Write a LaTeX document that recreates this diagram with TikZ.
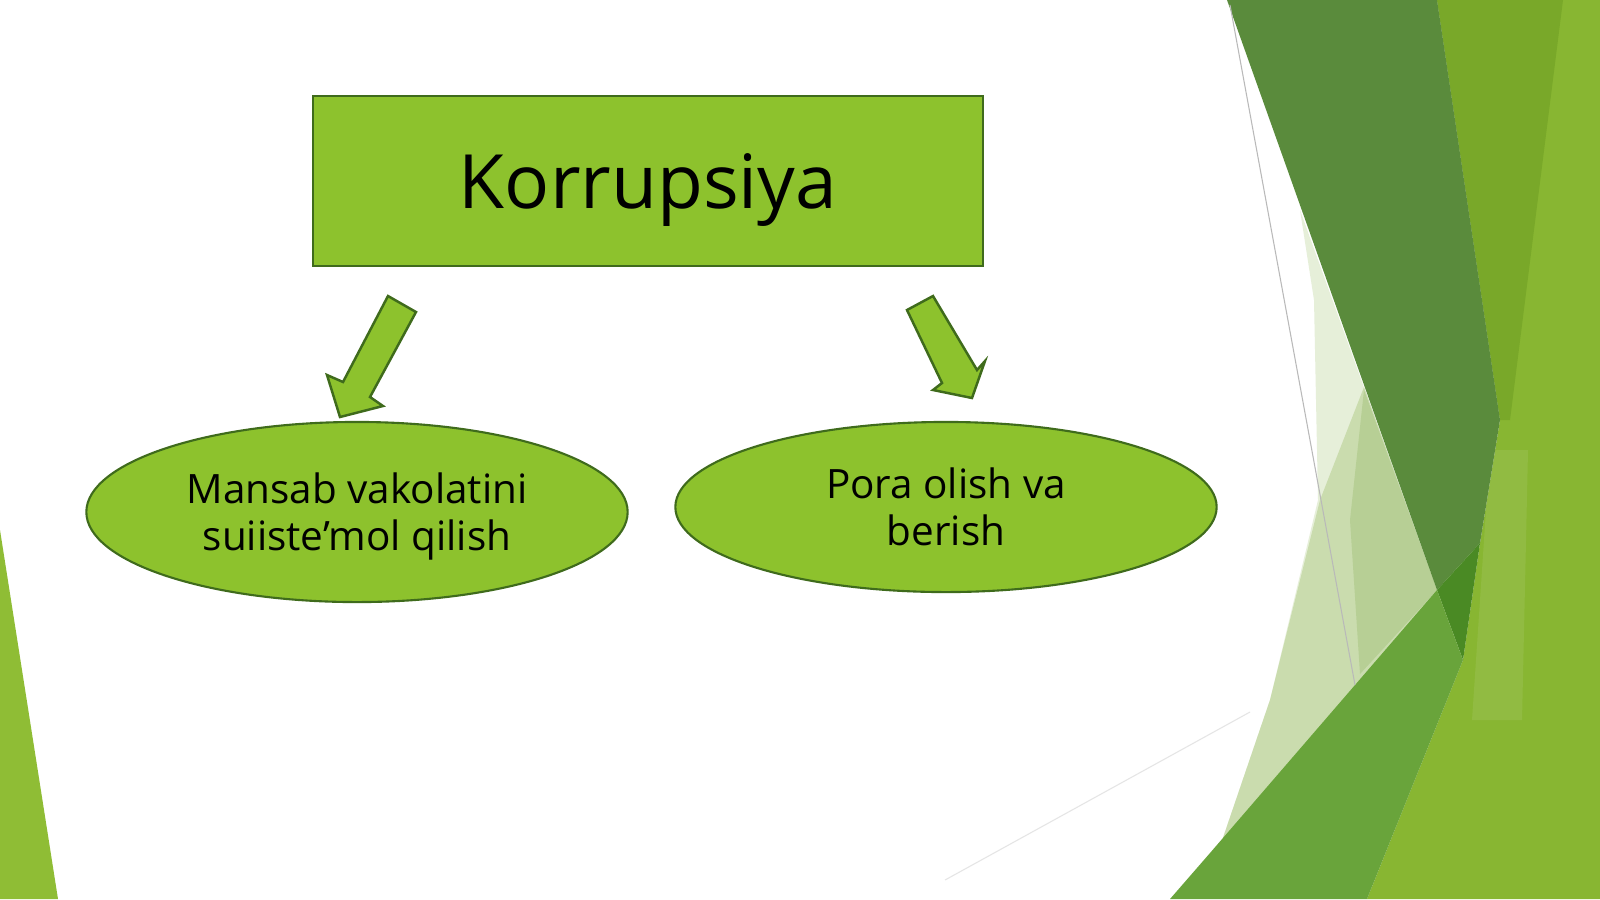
\documentclass[tikz,border=0pt]{standalone}
\usepackage{fontspec}
\setmainfont{Open Sans}
\usepackage{xcolor}
\usepackage{tikz}
\usetikzlibrary{positioning,shapes.geometric}

\definecolor{leaf}{HTML}{8DC22D}
\definecolor{leafedge}{HTML}{3F6B1C}
\definecolor{bandlight}{HTML}{88B632}
\definecolor{bandolive}{HTML}{79A829}
\definecolor{banddark}{HTML}{5A8B3C}
\definecolor{banddeep}{HTML}{4A8A24}
\definecolor{bandmid}{HTML}{69A43B}
\definecolor{bandpale}{HTML}{CADCAE}
\definecolor{bandpaler}{HTML}{E6EFD9}
\definecolor{bandsage}{HTML}{B7CF95}
\definecolor{sliver}{HTML}{8FBD35}

\begin{document}
\begin{tikzpicture}[
            x=0.01cm, y=-0.01cm,
            box/.style={draw=leafedge, line width=0.6pt, rectangle, fill=leaf, minimum width=6.70cm, minimum height=1.70cm, align=center, text depth=0pt},
            oval/.style={draw=leafedge, line width=0.6pt, ellipse, fill=leaf, inner sep=0pt, minimum width=5.41cm, align=center, text depth=0pt, font=\fontsize{11.5}{13.4}\selectfont},
            blockarrow/.style={draw=leafedge, line width=0.7pt, fill=leaf, line join=miter}
        ]
            \useasboundingbox (0,0) rectangle (1600,899);
            \fill[white] (0,0) rectangle (1600,899);

            % --- BACKGROUND: LEFT EDGE ---
            \fill[sliver] (0,530) -- (58,899) -- (0,899) -- cycle;

            % --- BACKGROUND: RIGHT BANDS ---
            \fill[bandlight] (1437,0) -- (1600,0) -- (1600,899) -- (1367,899) -- (1463,660) -- (1480,543) -- (1500,420) -- cycle;
            \fill[bandolive] (1437,0) -- (1563,0) -- (1510,420) -- (1500,420) -- cycle;
            \fill[white, opacity=0.08] (1490,450) -- (1528,450) -- (1522,720) -- (1472,720) -- cycle;
            \fill[bandpaler] (1300,210) -- (1437,590) -- (1300,800) -- (1212,870) -- (1270,700) -- (1318,500) -- (1314,300) -- cycle;
            \fill[bandpale] (1364,387) -- (1437,590) -- (1300,800) -- (1212,870) -- (1270,700) -- (1320,500) -- cycle;
            \fill[bandsage] (1364,390) -- (1437,590) -- (1360,674) -- (1350,520) -- cycle;
            \fill[banddark] (1227,0) -- (1437,0) -- (1500,420) -- (1480,543) -- (1437,590) -- cycle;
            \fill[banddeep] (1437,590) -- (1480,543) -- (1463,660) -- cycle;
            \fill[bandmid] (1437,590) -- (1463,660) -- (1367,899) -- (1170,899) -- (1210,853) -- cycle;
            \draw[gray!55, line width=0.3pt] (1230,5) -- (1355,685);
            \draw[gray!20, line width=0.3pt] (945,880) -- (1250,712);

            % --- TOP BOX ---
            \node[box, font=\fontsize{21.3}{25}\selectfont] (korr) at (648,181) {Korrupsiya};

            % --- BLOCK ARROWS ---
            \filldraw[blockarrow] (388,296) -- (416,312) -- (370,397) -- (383,406) -- (340,417) -- (327,375) -- (343,382) -- cycle;
            \filldraw[blockarrow] (907,310) -- (933,296) -- (977,370) -- (985,361) -- (972,398) -- (933,390) -- (942,383) -- cycle;

            % --- BOTTOM OVALS ---
            \node[oval, minimum height=1.80cm] (mansab) at (357,512) {Mansab vakolatini\\suiiste’mol qilish};
            \node[oval, minimum height=1.70cm] (pora) at (946,507) {Pora olish va\\berish};

        \end{tikzpicture}
\end{document}
